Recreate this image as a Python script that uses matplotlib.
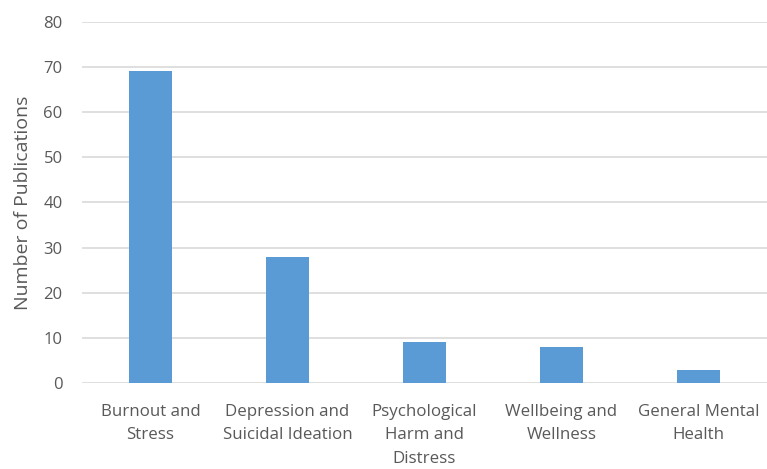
import matplotlib
matplotlib.use("Agg")
import matplotlib.pyplot as plt

categories = ["Burnout and\nStress", "Depression and\nSuicidal Ideation",
              "Psychological\nHarm and\nDistress", "Wellbeing and\nWellness",
              "General Mental\nHealth"]
counts = [69, 28, 9, 8, 3]
yticks = [0, 10, 20, 30, 40, 50, 60, 70, 80]

plt.rcParams['font.family'] = ['Open Sans', 'DejaVu Sans']
text_col = '#595959'

fig = plt.figure(figsize=(7.67, 4.69), dpi=100)
ax = fig.add_axes([0.107, 0.183, 0.893, 0.771])

x = range(len(categories))
ax.bar(x, counts, width=0.31, color='#5B9BD5', zorder=3)

ax.set_xlim(-0.5, len(categories) - 0.5)
ax.set_ylim(0, 80)
ax.set_yticks(yticks)
ax.set_xticks(list(x))
ax.set_xticklabels(categories, fontsize=12.2, color=text_col, linespacing=1.62)
ax.tick_params(axis='y', labelsize=12, colors=text_col, length=0, pad=14)
ax.tick_params(axis='x', length=0, pad=15)
ax.grid(axis='y', color='#d9d9d9', linewidth=1.2, zorder=0)
for s in ax.spines.values():
    s.set_visible(False)
ax.set_ylabel('Number of Publications', fontsize=14, color=text_col, labelpad=8)

fig.savefig('out.png', dpi=100)
